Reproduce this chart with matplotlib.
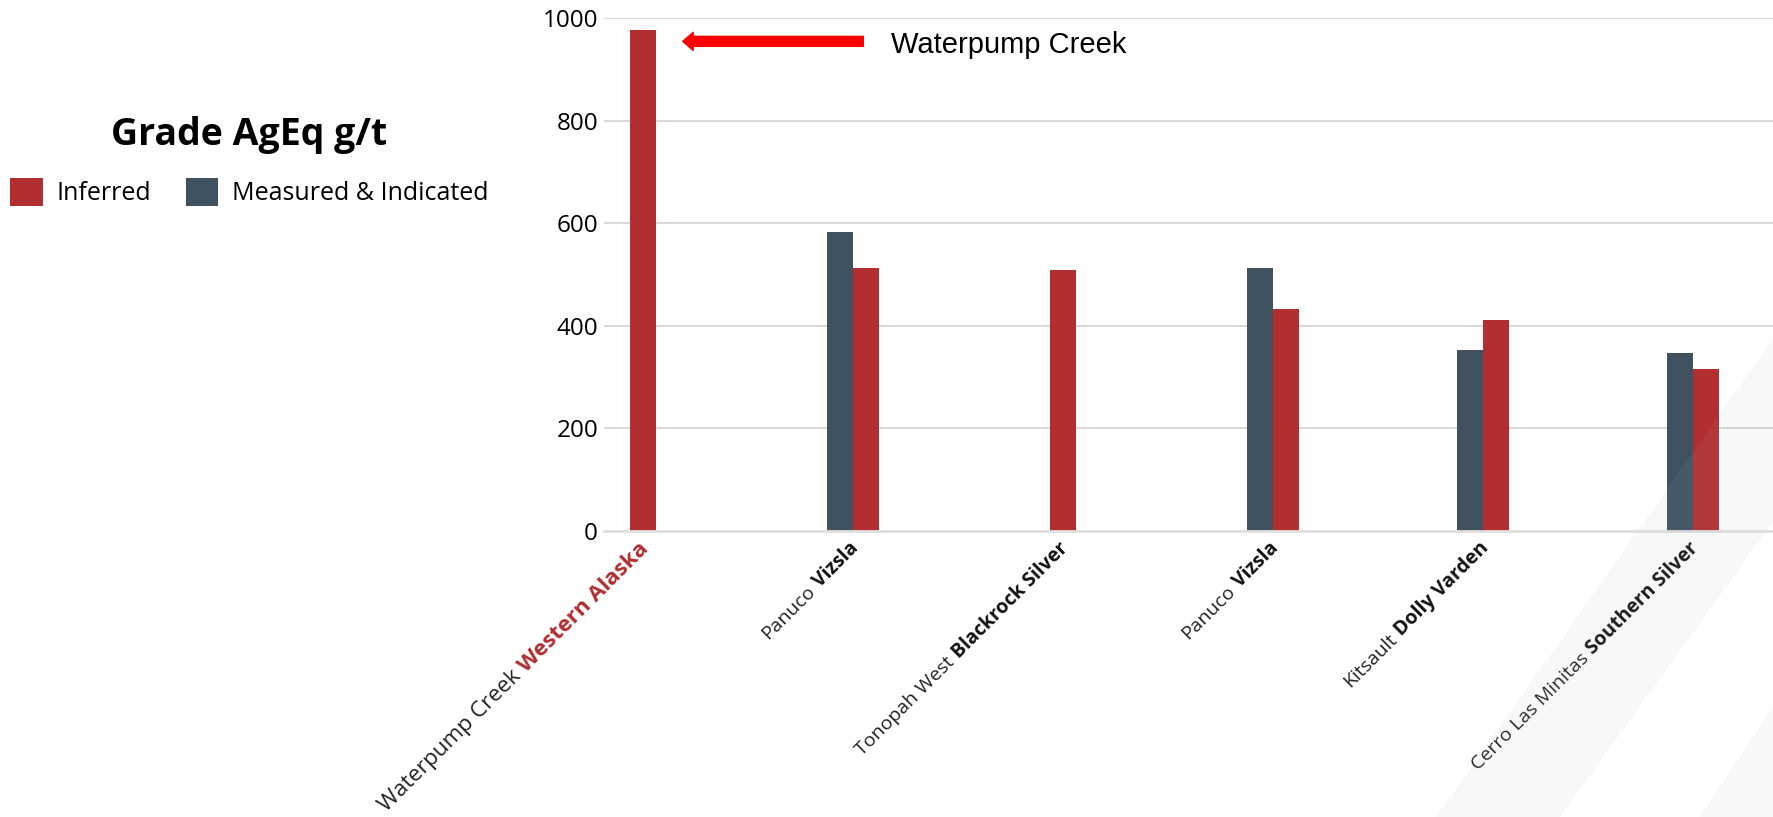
import numpy as np
import matplotlib
matplotlib.use('Agg')
import matplotlib.pyplot as plt
from matplotlib.patches import Polygon

# deposit names and the company behind each one (tick labels use two styles)
deposits = ['Waterpump Creek', 'Panuco', 'Tonopah West', 'Panuco', 'Kitsault', 'Cerro Las Minitas']
companies = ['Western Alaska', 'Vizsla', 'Blackrock Silver', 'Vizsla', 'Dolly Varden', 'Southern Silver']

# grade AgEq g/t, nan where there is no measured & indicated resource
inferred = [977, 512, 509, 433, 411, 315]
measured = [np.nan, 582, np.nan, 512, 352, 347]

RED = '#b22e30'
SLATE = '#405160'

plt.rcParams['font.family'] = ['Open Sans', 'DejaVu Sans']

W, H = 1773, 817
fig = plt.figure(figsize=(W / 100, H / 100), dpi=100)
ax = fig.add_axes([604 / W, 1 - 530.5 / H, 1 - 604 / W, (530.5 - 18.3) / H])

x = np.arange(len(deposits))
w = 0.124
meas = np.array(measured, dtype=float)
has_m = ~np.isnan(meas)
m_bars = ax.bar(x[has_m] - w / 2, meas[has_m], w, color=SLATE)
# single bars sit in the middle of their slot
i_bars = ax.bar(x + np.where(has_m, w / 2, 0), inferred, w, color=RED)

ax.set_xlim(-0.185, 5.382)
ax.set_ylim(0, 1000)
ax.set_yticks(range(0, 1001, 200))
ax.tick_params(axis='y', length=0, pad=4.3, labelsize=17.5)
ax.set_xticks([])
for s in ['top', 'right', 'left']:
    ax.spines[s].set_visible(False)
ax.spines['bottom'].set_color('#e0e0e0')
ax.spines['bottom'].set_linewidth(2)
ax.yaxis.grid(True, color='#d5d5d5', lw=1.3)
ax.set_axisbelow(True)

# two-part rotated labels: regular deposit name + bold company
fig.canvas.draw()
renderer = fig.canvas.get_renderer()


def width_px(s, **kw):
    t = fig.text(0, 0, s, **kw)
    wpx = t.get_window_extent(renderer).width
    t.remove()
    return wpx


ang = np.deg2rad(45)
x0, y0 = 3, -15
for i, (dep, comp) in enumerate(zip(deposits, companies)):
    big = i == 0
    fs = 16.2 if big else 14
    wb = width_px(comp, fontsize=fs, fontweight='bold')
    d = wb + 0.28 * fs * 100 / 72
    kw = dict(xycoords=('data', 'axes fraction'), textcoords='offset pixels',
              rotation=45, rotation_mode='anchor', ha='right', va='center',
              annotation_clip=False, fontsize=fs)
    ax.annotate(comp, (x[i], 0), xytext=(x0, y0), fontweight='bold',
                color=RED if big else '#111111', **kw)
    ax.annotate(dep, (x[i], 0), xytext=(x0 - d * np.cos(ang), y0 - d * np.sin(ang)),
                color='#222222', **kw)

# callout
ax.annotate('', xy=(0.19, 955), xytext=(1.05, 955),
            arrowprops=dict(arrowstyle='simple,head_length=0.75,head_width=1.3,tail_width=0.72',
                            color='red', mutation_scale=10, shrinkA=0, shrinkB=0))
ax.text(1.18, 933, 'Waterpump Creek', fontsize=21, family=['Liberation Sans'], va='baseline')

leg = fig.legend(handles=[i_bars, m_bars], labels=['Inferred', 'Measured & Indicated'],
                 loc='upper left', bbox_to_anchor=(10 / W, 1 - 116 / H), ncol=2,
                 frameon=False, fontsize=18, title='Grade AgEq g/t',
                 title_fontproperties={'size': 27, 'weight': 'bold'},
                 handlelength=1.3, handleheight=1.35, handletextpad=0.55,
                 columnspacing=1.4, borderpad=0, borderaxespad=0, labelspacing=0.95)

# faint diagonal background stripes, bottom right
def fpx(pts):
    return [(px / W, 1 - py / H) for px, py in pts]


for pts in [[(1436, 817), (1560, 817), (1773, 522), (1773, 339)],
            [(1700, 817), (1773, 817), (1773, 707)]]:
    fig.add_artist(Polygon(fpx(pts), closed=True, transform=fig.transFigure,
                           facecolor='#a0b0b0', alpha=0.08, edgecolor='none', zorder=10))

fig.savefig('out.png', dpi=100)
